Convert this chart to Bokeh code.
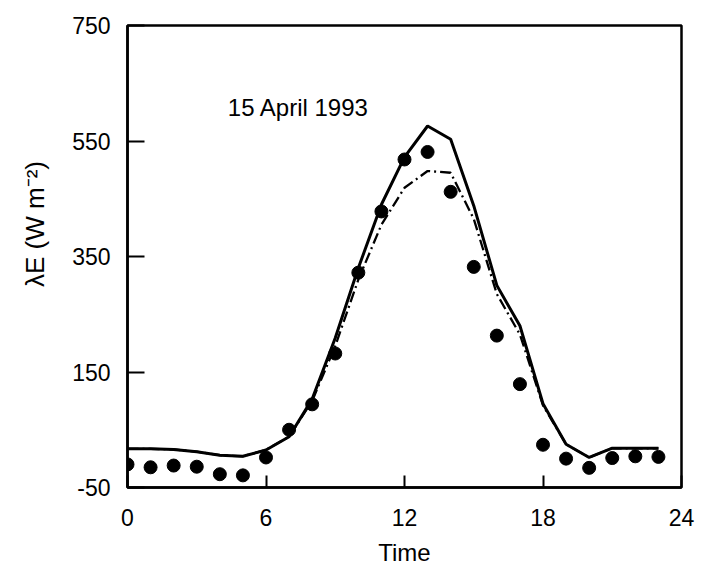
from bokeh.plotting import figure
from bokeh.models import FixedTicker, Label, Range1d
from bokeh.embed import file_html
from bokeh.resources import INLINE

# ---- data ----
hours = list(range(24))
measured = [-10, -15, -12, -14, -27, -29, 2, 50, 94, 182, 322, 428, 518, 531,
            462, 332, 213, 129, 24, 0, -16, 1, 4, 3]
model_solid = [17, 17, 16, 12, 6, 4, 15, 38, 103, 209, 330, 440, 522, 576,
               553, 438, 300, 230, 95, 25, 2, 18, 18, 18]
model_dashdot = [17, 17, 16, 12, 6, 4, 15, 38, 100, 195, 310, 405, 469, 498,
                 495, 415, 285, 215, 92, 25, 2, 18, 18, 18]
x_ticks = [0, 6, 12, 18, 24]
y_ticks = [-50, 150, 350, 550, 750]
annotation_text = "15 April 1993"
x_label = "Time"
y_label = "\u03bbE (W m\u207b\u00b2)"

# ---- layout ----
W, H = 709, 581
FL, FR, FT, FB = 127, 681, 25, 487   # frame edges in pixels
X0, X1, Y0, Y1 = 0, 24, -50, 750

FONT = "Liberation Sans"

p = figure(width=W, height=H, output_backend="svg", toolbar_location=None,
           x_range=Range1d(X0, X1), y_range=Range1d(Y0, Y1),
           min_border_left=FL, min_border_right=W - FR,
           min_border_top=FT, min_border_bottom=H - FB)
p.background_fill_color = "white"
p.border_fill_color = "white"
p.grid.visible = False
p.outline_line_color = "black"
p.outline_line_width = 2.5

for ax in (p.xaxis[0], p.yaxis[0]):
    ax.axis_line_width = 2.5
    ax.axis_line_color = "black"
    ax.major_tick_line_width = 2
    ax.major_tick_line_color = "black"
    ax.major_tick_out = 0
    ax.minor_tick_in = 0
    ax.minor_tick_out = 0
    ax.major_label_text_font = FONT
    ax.major_label_text_font_size = "23px"
    ax.major_label_text_color = "black"
    ax.axis_label_text_font = FONT
    ax.axis_label_text_font_style = "normal"
    ax.axis_label_text_color = "black"

p.xaxis.ticker = FixedTicker(ticks=x_ticks)
p.yaxis.ticker = FixedTicker(ticks=y_ticks)
p.yaxis.major_label_overrides = {t: str(t) for t in y_ticks}
p.xaxis.major_label_overrides = {t: str(t) for t in x_ticks}
p.xaxis.major_tick_in = 12
p.yaxis.major_tick_in = 17
p.xaxis.major_label_standoff = 21
p.yaxis.major_label_standoff = 17

p.xaxis.axis_label = x_label
p.xaxis.axis_label_text_font_size = "24px"
p.xaxis.axis_label_standoff = 10

# leading no-break spaces lift the label's visible text above the frame centre,
# as in the reference
p.yaxis.axis_label = "\u00a0" * 9 + y_label
p.yaxis.axis_label_text_font_size = "26px"
p.yaxis.axis_label_standoff = 19


def px2x(px):
    return X0 + (px - FL) * (X1 - X0) / (FR - FL)


def py2y(py):
    return Y0 + (FB - py) * (Y1 - Y0) / (FB - FT)


# ---- series ----
p.line(hours, model_dashdot, line_color="black", line_width=2.3,
       line_dash="11 4 2 4")
p.line(hours, model_solid, line_color="black", line_width=3)
p.scatter(hours, measured, size=13, marker="circle", fill_color="black",
          line_color="black")

# ---- annotation ----
p.add_layout(Label(x=px2x(298), y=py2y(107), text=annotation_text,
                   text_font=FONT, text_font_size="24px", text_align="center",
                   text_baseline="alphabetic", text_color="black"))

open("out.html", "w").write(file_html(p, INLINE))
